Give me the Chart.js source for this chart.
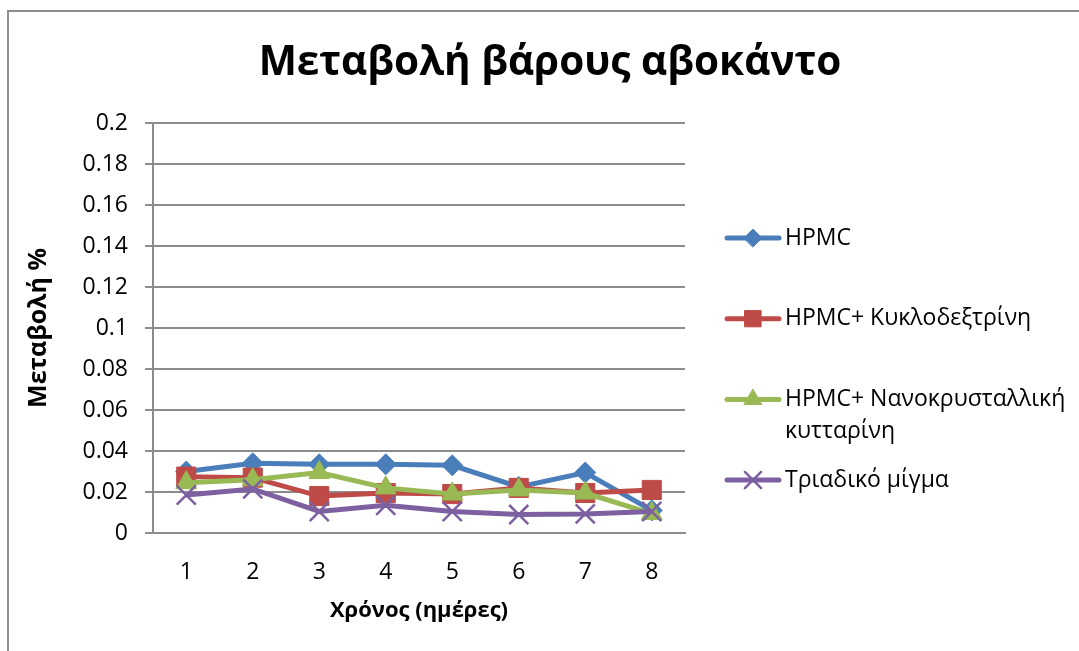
<!DOCTYPE html>
<html>
<head>
<meta charset="utf-8">
<script src="https://cdn.jsdelivr.net/npm/chart.js@4.4.1/dist/chart.umd.min.js"></script>
<style>
    html, body { margin: 0; padding: 0; background: #ffffff; overflow: hidden; }
    #frame { position: absolute; left: 7px; top: 10px; width: 1300px; height: 900px; border: 2px solid #8c8c8c; }
    #chart { position: absolute; left: 0; top: 0; }
</style>
</head>
<body>
<div id="frame"></div>
<canvas id="chart" width="1079" height="651"></canvas>
<script>
const chartTitle = "Μεταβολή βάρους αβοκάντο";
const xTitle = "Χρόνος (ημέρες)";
const yTitle = "Μεταβολή %";

const days = ["1", "2", "3", "4", "5", "6", "7", "8"];
const yTicks = ["0", "0.02", "0.04", "0.06", "0.08", "0.1", "0.12", "0.14", "0.16", "0.18", "0.2"];

const seriesNames = ["HPMC", "HPMC+ Κυκλοδεξτρίνη", "HPMC+ Νανοκρυσταλλική κυτταρίνη", "Τριαδικό μίγμα"];
const hpmc = [0.030, 0.034, 0.0335, 0.0335, 0.033, 0.0225, 0.0295, 0.011];
const hpmcCyclo = [0.0275, 0.027, 0.018, 0.0195, 0.019, 0.022, 0.0195, 0.021];
const hpmcNano = [0.0245, 0.026, 0.0295, 0.022, 0.019, 0.021, 0.0195, 0.0095];
const ternary = [0.0185, 0.0215, 0.0105, 0.0135, 0.0105, 0.009, 0.0093, 0.0105];

const font = "'Open Sans', sans-serif";
const gridGray = "#8c8c8c";

Chart.defaults.font.family = font;
Chart.defaults.color = "#000000";

function makeSeries(label, data, color, style, radius, order) {
    return {
        label: label,
        data: data,
        borderColor: color,
        backgroundColor: color,
        borderWidth: 5,
        pointStyle: style,
        pointRadius: radius,
        pointBorderWidth: style === "crossRot" ? 2.5 : 1,
        pointBackgroundColor: color,
        pointBorderColor: color,
        tension: 0,
        order: order
    };
}

// title + legend drawn on the canvas next to the plot
const decorPlugin = {
    id: "decor",
    afterDraw(chart) {
        const ctx = chart.ctx;
        ctx.save();
        ctx.fillStyle = "#000000";
        ctx.font = "bold 40.5px " + font;
        ctx.textAlign = "center";
        ctx.textBaseline = "middle";
        ctx.fillText(chartTitle, 550, 63);

        ctx.font = "23px " + font;
        ctx.textAlign = "left";
        const maxWidth = 1079 - 785 - 4;
        chart.data.datasets.forEach((ds, i) => {
            const y = 238 + i * 80.7;
            ctx.strokeStyle = ds.borderColor;
            ctx.lineWidth = 5;
            ctx.lineCap = "round";
            ctx.beginPath();
            ctx.moveTo(727, y);
            ctx.lineTo(779, y);
            ctx.stroke();

            ctx.fillStyle = ds.pointBackgroundColor;
            ctx.strokeStyle = ds.pointBorderColor;
            ctx.lineWidth = ds.pointBorderWidth;
            Chart.helpers.drawPoint(ctx, {
                pointStyle: ds.pointStyle,
                radius: ds.pointRadius * 0.85,
                borderWidth: ds.pointBorderWidth,
                rotation: 0
            }, 753, y);

            // simple word wrap
            const words = ds.label.split(" ");
            const lines = [];
            let line = "";
            words.forEach(w => {
                const test = line ? line + " " + w : w;
                if (line && ctx.measureText(test).width > maxWidth) {
                    lines.push(line);
                    line = w;
                } else {
                    line = test;
                }
            });
            lines.push(line);
            ctx.fillStyle = "#000000";
            lines.forEach((l, k) => ctx.fillText(l, 785, y + k * 32));
        });
        ctx.restore();
    }
};

new Chart(document.getElementById("chart"), {
    type: "line",
    data: {
        labels: days,
        datasets: [
            makeSeries(seriesNames[0], hpmc, "#4A7EBB", "rectRot", 10.5, 4),
            makeSeries(seriesNames[1], hpmcCyclo, "#BE4B48", "rect", 13.5, 3),
            makeSeries(seriesNames[2], hpmcNano, "#98B954", "triangle", 12, 2),
            makeSeries(seriesNames[3], ternary, "#7D60A0", "crossRot", 13.5, 1)
        ]
    },
    options: {
        responsive: false,
        devicePixelRatio: 1,
        animation: false,
        layout: {
            padding: { top: 123, left: 20, right: 394, bottom: 18 }
        },
        plugins: {
            legend: { display: false },
            title: { display: false },
            tooltip: { enabled: false }
        },
        scales: {
            x: {
                offset: true,
                grid: { display: false, drawTicks: false },
                border: { display: true, color: gridGray, width: 2 },
                ticks: { padding: 26, font: { size: 23 }, color: "#000000" },
                title: {
                    display: true,
                    text: xTitle,
                    font: { size: 22, weight: "bold" },
                    color: "#000000",
                    padding: { top: 0, bottom: 9 }
                },
                afterFit(scale) { scale.height = 100; }
            },
            y: {
                min: 0,
                max: 0.2,
                grid: { color: gridGray, lineWidth: 2, tickLength: 8 },
                border: { display: true, color: gridGray, width: 2 },
                ticks: {
                    stepSize: 0.02,
                    padding: 17,
                    font: { size: 23 },
                    color: "#000000",
                    callback: (value, index) => yTicks[index]
                },
                title: {
                    display: true,
                    text: yTitle,
                    font: { size: 25, weight: "bold" },
                    color: "#000000",
                    padding: { top: 4, bottom: 0 }
                },
                afterFit(scale) { scale.width = 133; }
            }
        }
    },
    plugins: [decorPlugin]
});
</script>
</body>
</html>
